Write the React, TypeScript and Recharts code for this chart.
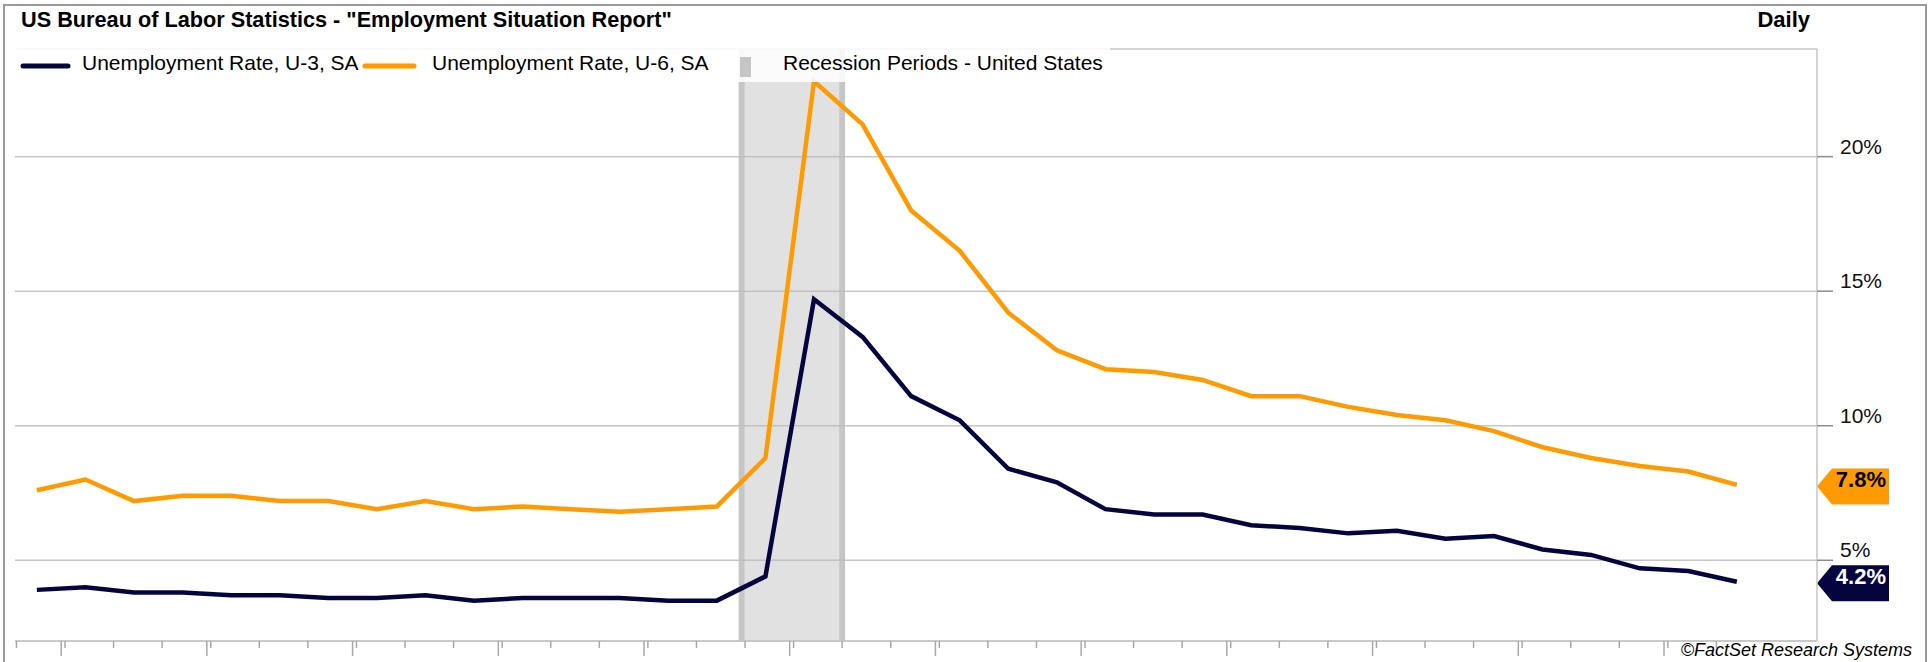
import React from 'react';
import { LineChart, Line, XAxis, YAxis, CartesianGrid, ReferenceArea, ReferenceLine } from 'recharts';

// monthly observations, Dec 2018 .. Nov 2021
const months = [
  'Dec 2018',
  'Jan 2019', 'Feb 2019', 'Mar 2019', 'Apr 2019', 'May 2019', 'Jun 2019',
  'Jul 2019', 'Aug 2019', 'Sep 2019', 'Oct 2019', 'Nov 2019', 'Dec 2019',
  'Jan 2020', 'Feb 2020', 'Mar 2020', 'Apr 2020', 'May 2020', 'Jun 2020',
  'Jul 2020', 'Aug 2020', 'Sep 2020', 'Oct 2020', 'Nov 2020', 'Dec 2020',
  'Jan 2021', 'Feb 2021', 'Mar 2021', 'Apr 2021', 'May 2021', 'Jun 2021',
  'Jul 2021', 'Aug 2021', 'Sep 2021', 'Oct 2021', 'Nov 2021',
];

const u3 = [
  3.9,
  4.0, 3.8, 3.8, 3.7, 3.7, 3.6, 3.6, 3.7, 3.5, 3.6, 3.6, 3.6,
  3.5, 3.5, 4.4, 14.7, 13.3, 11.1, 10.2, 8.4, 7.9, 6.9, 6.7, 6.7,
  6.3, 6.2, 6.0, 6.1, 5.8, 5.9, 5.4, 5.2, 4.7, 4.6, 4.2,
];

const u6 = [
  7.6,
  8.0, 7.2, 7.4, 7.4, 7.2, 7.2, 6.9, 7.2, 6.9, 7.0, 6.9, 6.8,
  6.9, 7.0, 8.8, 22.8, 21.2, 18.0, 16.5, 14.2, 12.8, 12.1, 12.0, 11.7,
  11.1, 11.1, 10.7, 10.4, 10.2, 9.8, 9.2, 8.8, 8.5, 8.3, 7.8,
];

const yTicks = [5, 10, 15, 20];

// recession shading (Feb 2020 - Apr 2020), in month-index units
const recessionStart = 14.45;
const recessionEnd = 16.64;

const seriesNames = ['Unemployment Rate, U-3, SA', 'Unemployment Rate, U-6, SA'];
const recessionName = 'Recession Periods - United States';

const NAVY = '#04053f';
const ORANGE = '#ff9a00';
const FONT = '"Liberation Sans", Arial, sans-serif';

const W = 1931;
const H = 662;

const data = months.map((month, i) => ({ i, month, u3: u3[i], u6: u6[i] }));

// minor ticks every month, longer ticks at the start of each quarter
const minorTicks = months.map((_, i) => i - 0.42);
const quarterTicks = months
  .map((m, i) => (/^(Jan|Apr|Jul|Oct)/.test(m) ? i - 0.5 : null))
  .filter((v) => v !== null) as number[];

const isQuarter = (v: number) => Math.abs(v - Math.floor(v) - 0.5) < 0.01;

const XTick = (props: any) => {
  const { x, y, payload } = props;
  const len = isQuarter(payload.value) ? 15 : 7;
  return <line x1={x} x2={x} y1={y} y2={y + len} stroke="#a8a8a8" strokeWidth={1.5} />;
};

const YTick = (props: any) => {
  const { x, y, payload } = props;
  return (
    <text x={x + 7} y={y - 3} fontSize={21} fontFamily={FONT} fill="#111">
      {payload.value}%
    </text>
  );
};

const badge = (value: number, fill: string, textColor: string) => (props: any) => {
  const xr = Math.max(props.x1, props.x2);
  const y = props.y1 + 1.5;
  const pts = [
    [xr, y],
    [xr + 15, y - 18],
    [xr + 72, y - 18],
    [xr + 72, y + 18],
    [xr + 15, y + 18],
  ]
    .map((p) => p.join(','))
    .join(' ');
  return (
    <g>
      <polygon points={pts} fill={fill} />
      <text x={xr + 69} y={y + 1} textAnchor="end" fontSize={22} fontWeight="bold" fontFamily={FONT} fill={textColor}>
        {value.toFixed(1)}%
      </text>
    </g>
  );
};

export default function App() {
  const lastU3 = u3[u3.length - 1];
  const lastU6 = u6[u6.length - 1];

  return (
    <div style={{ position: 'absolute', left: 0, top: 0, width: W, height: H, background: '#fff', fontFamily: FONT }}>
      <LineChart width={W} height={H} data={data} margin={{ top: 49, right: 0, bottom: 0, left: 15 }}>
        <CartesianGrid vertical={false} stroke="#c6c6c6" strokeWidth={1.5} />
        <ReferenceArea x1={recessionStart} x2={recessionEnd} fill="#bcbcbc" fillOpacity={0.45} stroke="none" />
        <ReferenceArea x1={recessionStart} x2={recessionStart + 0.12} fill="#bcbcbc" fillOpacity={0.75} stroke="none" />
        <ReferenceArea x1={recessionEnd - 0.12} x2={recessionEnd} fill="#bcbcbc" fillOpacity={0.75} stroke="none" />
        <XAxis
          dataKey="i"
          type="number"
          domain={[-0.45, 36.65]}
          allowDataOverflow
          ticks={[...minorTicks, ...quarterTicks]}
          interval={0}
          height={21}
          tickSize={0}
          tickMargin={0}
          tick={(p: any) => <XTick {...p} />}
          axisLine={{ stroke: '#c6c6c6', strokeWidth: 1.5 }}
          tickLine={false}
        />
        <YAxis
          orientation="right"
          type="number"
          domain={[2, 24]}
          allowDataOverflow
          ticks={yTicks}
          width={114}
          tickSize={16}
          tickMargin={0}
          tick={<YTick />}
          axisLine={{ stroke: '#c6c6c6', strokeWidth: 1.5 }}
          tickLine={{ stroke: '#8c8c8c', strokeWidth: 1.5 }}
        />
        <Line type="linear" dataKey="u6" name={seriesNames[1]} stroke={ORANGE} strokeWidth={4.5} dot={false} isAnimationActive={false} />
        <Line type="linear" dataKey="u3" name={seriesNames[0]} stroke={NAVY} strokeWidth={4.5} dot={false} isAnimationActive={false} />
        <ReferenceLine y={lastU6} stroke="none" shape={badge(lastU6, ORANGE, '#000')} />
        <ReferenceLine y={lastU3} stroke="none" shape={badge(lastU3, NAVY, '#fff')} />
      </LineChart>

      <svg width={W} height={H} style={{ position: 'absolute', left: 0, top: 0, pointerEvents: 'none' }}>
        <rect x={4} y={5} width={1922} height={720} fill="none" stroke="#9a9a9a" strokeWidth={2} />
        <text x={21} y={27} fontSize={21.7} fontWeight="bold" fontFamily={FONT} fill="#000">
          US Bureau of Labor Statistics - "Employment Situation Report"
        </text>
        <text x={1810} y={27} textAnchor="end" fontSize={22} fontWeight="bold" fontFamily={FONT} fill="#000">
          Daily
        </text>

        <rect x={15} y={48} width={1095} height={34} fill="#fff" fillOpacity={0.85} />
        <line x1={23} x2={68} y1={66} y2={66} stroke={NAVY} strokeWidth={5} strokeLinecap="round" />
        <text x={82} y={70} fontSize={21} fontFamily={FONT} fill="#000">{seriesNames[0]}</text>
        <line x1={365} x2={414} y1={66} y2={66} stroke={ORANGE} strokeWidth={5} strokeLinecap="round" />
        <text x={432} y={70} fontSize={21} fontFamily={FONT} fill="#000">{seriesNames[1]}</text>
        <rect x={740} y={57} width={11} height={20} fill="#c6c6c6" />
        <text x={783} y={70} fontSize={21} fontFamily={FONT} fill="#000">{recessionName}</text>

        <text x={1912} y={656} textAnchor="end" fontSize={18} fontStyle="italic" fontFamily={FONT} fill="#000">
          ©FactSet Research Systems
        </text>
      </svg>
    </div>
  );
}
